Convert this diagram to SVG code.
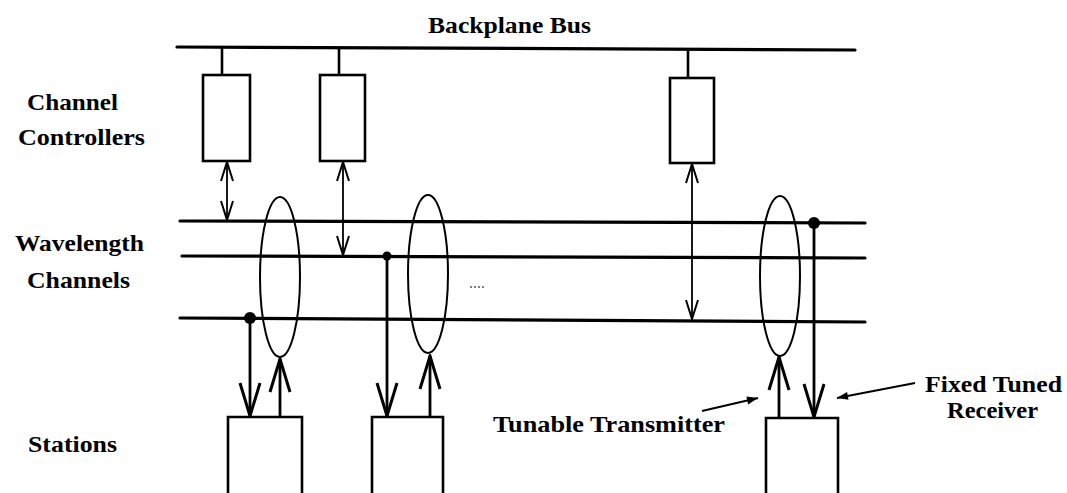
<svg xmlns="http://www.w3.org/2000/svg" width="1067" height="493" viewBox="0 0 1067 493">
<style>
  .lbl { font-family: "Liberation Serif", "Times New Roman", serif; font-weight: bold; font-size: 23px; fill: #000; }
  .bus { stroke: #000; stroke-width: 3.2; fill: none; stroke-linecap: round; }
  .box { stroke: #000; stroke-width: 2.6; fill: #fff; }
  .open { stroke: #000; stroke-width: 2.6; fill: none; }
  .ell { stroke: #000; stroke-width: 2; fill: none; }
  .arr { stroke: #000; stroke-width: 2.8; fill: none; }
  .dbl { stroke: #000; stroke-width: 1.8; fill: none; }
  .lead { stroke: #000; stroke-width: 2; fill: none; }
</style>
<defs>
  <marker id="vbig" viewBox="-36 -13 38 26" markerUnits="userSpaceOnUse" markerWidth="38" markerHeight="26" refX="0" refY="0" orient="auto">
    <path d="M-33,-10 L0,0 L-33,10" fill="none" stroke="#000" stroke-width="3"/>
  </marker>
  <marker id="vsmall" viewBox="-22 -8 24 16" markerUnits="userSpaceOnUse" markerWidth="24" markerHeight="16" refX="0" refY="0" orient="auto-start-reverse">
    <path d="M-19,-6 L0,0 L-19,6" fill="none" stroke="#000" stroke-width="2"/>
  </marker>
  <marker id="tri" viewBox="-12 -5 13 10" markerUnits="userSpaceOnUse" markerWidth="13" markerHeight="10" refX="0" refY="0" orient="auto">
    <path d="M-11,-4 L0,0 L-11,4 Z" fill="#000"/>
  </marker>
</defs>

<g id="labels">
  <text class="lbl" x="428" y="33" textLength="163" lengthAdjust="spacingAndGlyphs">Backplane Bus</text>
  <text class="lbl" x="27" y="110" textLength="91" lengthAdjust="spacingAndGlyphs">Channel</text>
  <text class="lbl" x="18" y="145" textLength="127" lengthAdjust="spacingAndGlyphs">Controllers</text>
  <text class="lbl" x="15" y="251" textLength="129" lengthAdjust="spacingAndGlyphs">Wavelength</text>
  <text class="lbl" x="27" y="288" textLength="103" lengthAdjust="spacingAndGlyphs">Channels</text>
  <text class="lbl" x="28" y="452" textLength="89" lengthAdjust="spacingAndGlyphs">Stations</text>
  <text class="lbl" x="493" y="432" textLength="232" lengthAdjust="spacingAndGlyphs">Tunable Transmitter</text>
  <text class="lbl" x="925" y="392" textLength="137" lengthAdjust="spacingAndGlyphs">Fixed Tuned</text>
  <text class="lbl" x="947" y="418" textLength="91" lengthAdjust="spacingAndGlyphs">Receiver</text>
</g>

<g id="backplane-bus">
  <line class="bus" x1="177" y1="47" x2="855" y2="50"/>
</g>

<g id="wavelength-channels">
  <line class="bus" x1="180" y1="221" x2="865" y2="223"/>
  <line class="bus" x1="182" y1="256" x2="865" y2="258"/>
  <line class="bus" x1="180" y1="318" x2="865" y2="322"/>
</g>

<g id="controller-1">
  <line class="open" x1="222" y1="48" x2="222" y2="75"/>
  <rect class="box" x="203" y="75" width="47" height="86"/>
</g>
<g id="controller-2">
  <line class="open" x1="339" y1="48" x2="339" y2="75"/>
  <rect class="box" x="320" y="75" width="45" height="86"/>
</g>
<g id="controller-3">
  <line class="open" x1="688" y1="50" x2="688" y2="78"/>
  <rect class="box" x="670" y="78" width="44" height="85"/>
</g>

<g id="station-1">
  <path class="open" d="M228,495 V417 H302 V495"/>
</g>
<g id="station-2">
  <path class="open" d="M372,495 V417 H443 V495"/>
</g>
<g id="station-3">
  <path class="open" d="M766,495 V418 H838 V495"/>
</g>

<g id="tuning-ellipses">
  <ellipse class="ell" cx="280" cy="277" rx="20" ry="80"/>
  <ellipse class="ell" cx="428" cy="274" rx="20" ry="79"/>
  <ellipse class="ell" cx="780" cy="276" rx="20" ry="80"/>
</g>

<g id="connectors">
  <line class="dbl" x1="227" y1="162" x2="227" y2="220" marker-start="url(#vsmall)" marker-end="url(#vsmall)"/>
  <line class="dbl" x1="343" y1="162" x2="343" y2="255" marker-start="url(#vsmall)" marker-end="url(#vsmall)"/>
  <line class="dbl" x1="692" y1="164" x2="692" y2="319" marker-start="url(#vsmall)" marker-end="url(#vsmall)"/>

  <circle cx="250" cy="318" r="6" fill="#000"/>
  <circle cx="387" cy="256" r="4.5" fill="#000"/>
  <circle cx="814" cy="223" r="6" fill="#000"/>

  <line class="arr" x1="250" y1="318" x2="250" y2="416" marker-end="url(#vbig)"/>
  <line class="arr" x1="280" y1="417" x2="280" y2="359" marker-end="url(#vbig)"/>
  <line class="arr" x1="387" y1="256" x2="387" y2="416" marker-end="url(#vbig)"/>
  <line class="arr" x1="430" y1="417" x2="430" y2="356" marker-end="url(#vbig)"/>
  <line class="arr" x1="779" y1="418" x2="779" y2="357" marker-end="url(#vbig)"/>
  <line class="arr" x1="814" y1="223" x2="814" y2="417" marker-end="url(#vbig)"/>

  <line class="lead" x1="702" y1="411" x2="758" y2="398" marker-end="url(#tri)"/>
  <line class="lead" x1="915" y1="383" x2="837" y2="398" marker-end="url(#tri)"/>
</g>

<g id="specks">
  <line x1="470" y1="287" x2="484" y2="287" stroke="#000" stroke-width="1" stroke-dasharray="2,2"/>
</g>
</svg>
